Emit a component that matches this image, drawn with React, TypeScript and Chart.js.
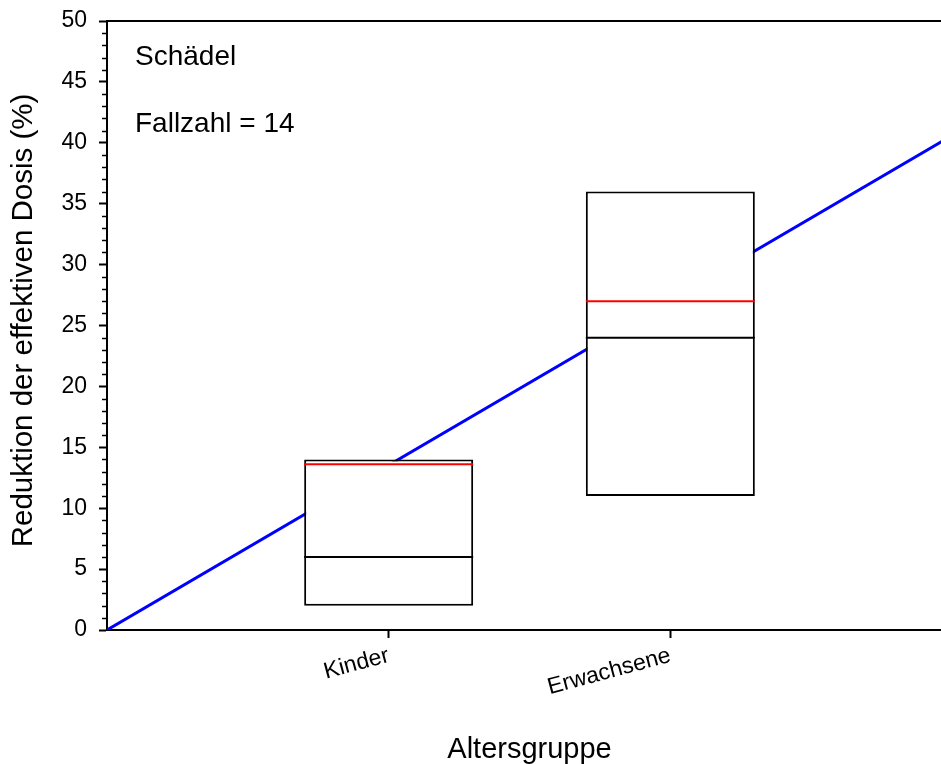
import React, { useEffect, useRef } from "react";
import { Chart, registerables } from "chart.js";

Chart.register(...registerables);

// Age groups and their positions on the x axis
const groups = ["Kinder", "Erwachsene"];
const groupPositions = [1, 2];

// Box statistics per group (% reduction of effective dose)
const boxLow = [2, 11];
const boxHigh = [14, 36];
const medians = [6, 24];
const means = [13.6, 27];

// Fitted line through the origin
const fitX = [0, 3];
const fitY = [0, 40.6];

// Axis ranges
const xRange = [0, 3];
const yRange = [0, 50];
const yMajorStep = 5;
const yMinorStep = 1;

// Axis titles and text shown inside the plot
const xTitle = "Altersgruppe";
const yTitle = "Reduktion der effektiven Dosis (%)";
const plotNotes = ["Schädel", "Fallzahl = 14"];

const FONT = "'Liberation Sans', Arial, Helvetica, sans-serif";
const BOX_HALF = 0.3;

const frameAndNotes = {
  id: "frameAndNotes",
  afterDraw(chart: any) {
    const { ctx, chartArea, scales } = chart;
    const y = scales.y;
    ctx.save();
    ctx.strokeStyle = "#000";
    ctx.lineWidth = 2;
    // top frame line
    ctx.beginPath();
    ctx.moveTo(chartArea.left - 1, chartArea.top);
    ctx.lineTo(chartArea.right, chartArea.top);
    ctx.stroke();
    // minor ticks on the y axis
    ctx.lineWidth = 1.5;
    for (let v = yRange[0]; v <= yRange[1]; v += yMinorStep) {
      if (v % yMajorStep === 0) continue;
      const py = Math.round(y.getPixelForValue(v)) + 0.5;
      ctx.beginPath();
      ctx.moveTo(chartArea.left - 5, py);
      ctx.lineTo(chartArea.left, py);
      ctx.stroke();
    }
    ctx.fillStyle = "#000";
    // y axis title
    ctx.save();
    ctx.font = `29.5px ${FONT}`;
    ctx.textAlign = "center";
    ctx.textBaseline = "middle";
    ctx.translate(24, (chartArea.top + chartArea.bottom) / 2 - 5);
    ctx.rotate(-Math.PI / 2);
    ctx.fillText(yTitle, 0, 0);
    ctx.restore();
    // notes
    ctx.font = `28px ${FONT}`;
    ctx.textBaseline = "alphabetic";
    ctx.textAlign = "left";
    ctx.fillText(plotNotes[0], chartArea.left + 28, chartArea.top + 44);
    ctx.fillText(plotNotes[1], chartArea.left + 28, chartArea.top + 111);
    ctx.restore();
  },
};

export default function App() {
  const ref = useRef<HTMLCanvasElement>(null);

  useEffect(() => {
    if (!ref.current) return;

    const boxData = groupPositions.map((x, i) => ({ x, y: [boxLow[i], boxHigh[i]] }));
    const segment = (vals: number[], i: number) => [
      { x: groupPositions[i] - BOX_HALF, y: vals[i] },
      { x: groupPositions[i] + BOX_HALF, y: vals[i] },
    ];

    const datasets: any[] = [
      {
        type: "line",
        data: fitX.map((x, i) => ({ x, y: fitY[i] })),
        borderColor: "#0000ff",
        borderWidth: 3,
        pointRadius: 0,
        order: 4,
      },
      {
        type: "bar",
        data: boxData,
        backgroundColor: "#ffffff",
        borderColor: "#000000",
        borderWidth: 2,
        borderSkipped: false,
        barPercentage: BOX_HALF * 2,
        categoryPercentage: 1,
        order: 3,
      },
    ];
    groupPositions.forEach((_, i) => {
      datasets.push({
        type: "line",
        data: segment(medians, i),
        borderColor: "#000000",
        borderWidth: 2,
        pointRadius: 0,
        order: 2,
      });
      datasets.push({
        type: "line",
        data: segment(means, i),
        borderColor: "#ff0000",
        borderWidth: 2,
        pointRadius: 0,
        order: 1,
      });
    });

    const chart = new Chart(ref.current, {
      type: "bar",
      data: { datasets },
      plugins: [frameAndNotes],
      options: {
        animation: false,
        responsive: false,
        devicePixelRatio: 1,
        layout: { padding: { top: 21, left: 0, right: 0, bottom: 0 } },
        plugins: { legend: { display: false }, tooltip: { enabled: false } },
        scales: {
          x: {
            type: "linear",
            offset: false,
            min: xRange[0],
            max: xRange[1],
            afterBuildTicks: (scale: any) => {
              scale.ticks = groupPositions.map((v) => ({ value: v }));
            },
            afterFit: (scale: any) => {
              scale.height = 134;
              scale.paddingLeft = 0;
              scale.paddingRight = 0;
            },
            ticks: {
              autoSkip: false,
              minRotation: 15,
              maxRotation: 15,
              padding: 4,
              color: "#000",
              font: { family: FONT, size: 23 },
              callback: (v: any) => groups[groupPositions.indexOf(Number(v))] ?? "",
            },
            grid: {
              offset: false,
              drawOnChartArea: false,
              drawTicks: true,
              tickLength: 8,
              tickWidth: 2,
              color: "#000",
            },
            border: { display: true, color: "#000", width: 2 },
            title: {
              display: true,
              text: xTitle,
              color: "#000",
              font: { family: FONT, size: 29, lineHeight: 1 },
              padding: { top: 0, bottom: 0 },
            },
          },
          y: {
            type: "linear",
            min: yRange[0],
            max: yRange[1],
            afterFit: (scale: any) => {
              scale.width = 107;
              scale.paddingTop = 0;
              scale.paddingBottom = 0;
            },
            ticks: {
              stepSize: yMajorStep,
              padding: 12,
              color: "#000",
              font: { family: FONT, size: 23 },
            },
            grid: {
              drawOnChartArea: false,
              drawTicks: true,
              tickLength: 8,
              tickWidth: 2,
              color: "#000",
            },
            border: { display: true, color: "#000", width: 2 },
          },
        },
      } as any,
    });

    return () => chart.destroy();
  }, []);

  return (
    <div
      style={{
        position: "absolute",
        left: 0,
        top: 0,
        width: 941,
        height: 764,
        overflow: "hidden",
        background: "#fff",
      }}
    >
      <canvas ref={ref} width={952} height={764} style={{ display: "block" }} />
    </div>
  );
}
